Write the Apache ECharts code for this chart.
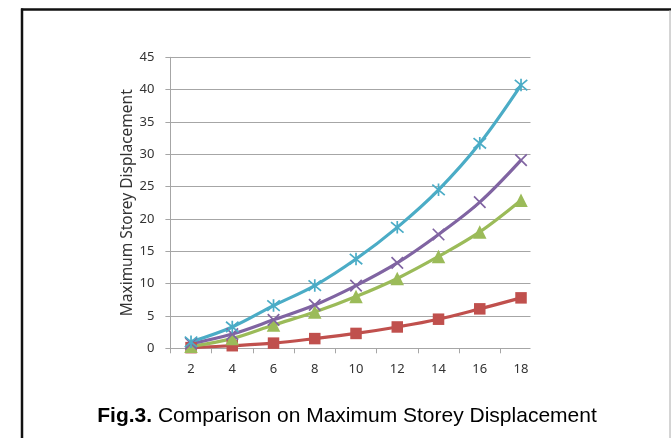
<!DOCTYPE html>
<html>
<head>
<meta charset="utf-8">
<script src="https://cdn.jsdelivr.net/npm/echarts@6/dist/echarts.min.js"></script>
<style>
  html, body { margin: 0; padding: 0; background: #fff; }
  #chart { width: 671px; height: 438px; }
</style>
</head>
<body>
<div id="chart"></div>
<script>
// Number of storeys on the x axis
var storeys = ['2', '4', '6', '8', '10', '12', '14', '16', '18'];

// Maximum storey displacement for each structural case
var seriesRed    = [0.1, 0.4, 0.8, 1.5, 2.3, 3.3, 4.5, 6.1, 7.8];
var seriesGreen  = [0.3, 1.5, 3.6, 5.6, 8.0, 10.8, 14.2, 18.0, 22.9];
var seriesPurple = [0.7, 2.2, 4.4, 6.7, 9.7, 13.2, 17.6, 22.6, 29.1];
var seriesCyan   = [1.0, 3.3, 6.6, 9.7, 13.8, 18.7, 24.5, 31.7, 40.7];

var yMin = 0, yMax = 45, yStep = 5;

var crossPath = 'path://M0,0L10,10M10,0L0,10';
var starPath = 'path://M0,0L10,10M10,0L0,10M5,-1L5,11';

var gridColor = '#a6a6a6';
var labelFont = '"Noto Sans", "Open Sans", sans-serif';

function lineSeries(name, data, color, symbol, size, stroke) {
  return {
    name: name,
    type: 'line',
    data: data,
    smooth: 0.35,
    symbol: symbol,
    symbolSize: size,
    showSymbol: true,
    lineStyle: { color: color, width: 3.2 },
    itemStyle: stroke
      ? { color: color, borderColor: color, borderWidth: 1.7 }
      : { color: color, borderWidth: 0 },
    z: 3
  };
}

var chart = echarts.init(document.getElementById('chart'), null, { renderer: 'canvas' });

chart.setOption({
  backgroundColor: '#ffffff',
  animation: false,
  grid: { left: 170.4, top: 57.3, width: 371.25, bottom: 89.7, containLabel: false },
  xAxis: {
    type: 'category',
    data: storeys,
    boundaryGap: true,
    axisLine: { lineStyle: { color: gridColor, width: 1 } },
    axisTick: { show: true, length: 5, inside: false, lineStyle: { color: gridColor } },
    axisLabel: { color: '#333', fontFamily: labelFont, fontSize: 13, margin: 14 },
    splitLine: { show: false }
  },
  yAxis: {
    type: 'value',
    min: yMin,
    max: yMax,
    interval: yStep,
    name: 'Maximum Storey Displacement',
    nameLocation: 'middle',
    nameGap: 35,
    nameMoveOverlap: false,
    nameTextStyle: { color: '#333', fontFamily: labelFont, fontSize: 15.5 },
    axisLine: { show: true, lineStyle: { color: gridColor, width: 1 } },
    axisTick: { show: true, length: 5, inside: false, lineStyle: { color: gridColor } },
    axisLabel: { color: '#333', fontFamily: labelFont, fontSize: 13, margin: 16 },
    splitLine: { show: true, lineStyle: { color: gridColor, width: 1 } }
  },
  series: [
    lineSeries('Series 1', seriesRed, '#c0504d', 'rect', 11.5, false),
    lineSeries('Series 2', seriesGreen, '#9bbb59', 'triangle', 13.5, false),
    lineSeries('Series 3', seriesPurple, '#8064a2', crossPath, 11.5, true),
    lineSeries('Series 4', seriesCyan, '#4bacc6', starPath, 12.5, true)
  ],
  graphic: [
    // trims the plot frame on the right side
    { type: 'rect', z: 1, silent: true,
      shape: { x: 530.5, y: 40, width: 20, height: 320 },
      style: { fill: '#ffffff' } },
    // outer figure frame
    { type: 'line', z: 10, silent: true,
      shape: { x1: 21, y1: 9.5, x2: 671, y2: 9.5 },
      style: { stroke: '#111', lineWidth: 2.5 } },
    { type: 'line', z: 10, silent: true,
      shape: { x1: 22, y1: 8.5, x2: 22, y2: 438 },
      style: { stroke: '#111', lineWidth: 2.5 } },
    { type: 'line', z: 10, silent: true,
      shape: { x1: 670, y1: 10, x2: 670, y2: 438 },
      style: { stroke: '#aaa', lineWidth: 1 } },
    // figure caption
    { type: 'text', z: 10, silent: true,
      x: 347, y: 416,
      style: {
        text: '{b|Fig.3.} Comparison on Maximum Storey Displacement',
        align: 'center',
        verticalAlign: 'middle',
        fill: '#000',
        font: '21px "Liberation Sans", Arial, sans-serif',
        rich: {
          b: { fontWeight: 'bold', fontSize: 21, fontFamily: '"Liberation Sans", Arial, sans-serif', fill: '#000' }
        }
      } }
  ]
});
</script>
</body>
</html>
